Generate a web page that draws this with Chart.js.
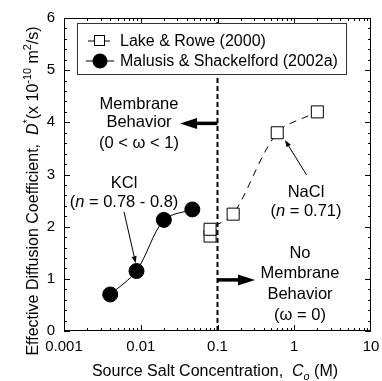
<!DOCTYPE html>
<html>
<head>
<meta charset="utf-8">
<script src="https://cdn.jsdelivr.net/npm/chart.js@4.4.0/dist/chart.umd.min.js"></script>
<style>
  html, body { margin: 0; padding: 0; background: #fff; }
</style>
</head>
<body>
<canvas id="myChart" width="382" height="381"></canvas>
<script>
// concentration (M) vs effective diffusion coefficient (x 10^-10 m2/s)
const lakeConc = [0.08, 0.08, 0.16, 0.6, 2.0];
const lakeD = [1.82, 1.95, 2.24, 3.8, 4.2];
const malusisConc = [0.004, 0.0088, 0.02, 0.047];
const malusisD = [0.7, 1.15, 2.13, 2.33];
const boundaryConc = 0.1;

const xTicks = [0.001, 0.01, 0.1, 1, 10];
const xTickLabels = ['0.001', '0.01', '0.1', '1', '10'];
const yMin = 0, yMax = 6;
const seriesNames = ['Lake & Rowe (2000)', 'Malusis & Shackelford (2002a)'];

const FONT = '"Liberation Sans", Arial, Helvetica, sans-serif';

// rich text: parts like {t, it, sup, sub}
function richWidth(ctx, parts, size) {
  let w = 0;
  parts.forEach(p => {
    const s = (p.sup || p.sub) ? size * 0.68 : size;
    ctx.font = (p.it ? 'italic ' : '') + s + 'px ' + FONT;
    w += ctx.measureText(p.t).width;
  });
  return w;
}

function drawRich(ctx, parts, x, y, size) {
  let cx = x - richWidth(ctx, parts, size) / 2;
  ctx.textAlign = 'left';
  ctx.textBaseline = 'alphabetic';
  parts.forEach(p => {
    const s = (p.sup || p.sub) ? size * 0.68 : size;
    ctx.font = (p.it ? 'italic ' : '') + s + 'px ' + FONT;
    let dy = 0;
    if (p.sup) dy = -size * 0.42;
    if (p.sub) dy = size * 0.25;
    ctx.fillText(p.t, cx, y + dy);
    cx += ctx.measureText(p.t).width;
  });
}

function drawArrow(ctx, x1, y1, x2, y2, width, headLen, headHalf) {
  const a = Math.atan2(y2 - y1, x2 - x1);
  const bx = x2 - Math.cos(a) * headLen, by = y2 - Math.sin(a) * headLen;
  ctx.strokeStyle = '#000';
  ctx.fillStyle = '#000';
  ctx.lineWidth = width;
  ctx.beginPath();
  ctx.moveTo(x1, y1);
  ctx.lineTo(bx, by);
  ctx.stroke();
  ctx.beginPath();
  ctx.moveTo(x2, y2);
  ctx.lineTo(bx + Math.sin(a) * headHalf, by - Math.cos(a) * headHalf);
  ctx.lineTo(bx - Math.sin(a) * headHalf, by + Math.cos(a) * headHalf);
  ctx.closePath();
  ctx.fill();
}

// box + inward ticks on all four sides
const framePlugin = {
  id: 'frame',
  afterDatasetsDraw(chart) {
    const {ctx, chartArea: a, scales: {x, y}} = chart;
    ctx.save();
    ctx.strokeStyle = '#000';
    ctx.lineWidth = 1;
    ctx.strokeRect(a.left + 0.5, a.top + 0.5, a.right - a.left - 1, a.bottom - a.top - 1);
    ctx.beginPath();
    for (let e = -3; e < 1; e++) {
      for (let k = 1; k <= 9; k++) {
        const px = Math.round(x.getPixelForValue(k * Math.pow(10, e))) + 0.5;
        const len = k === 1 ? 6 : 3;
        ctx.moveTo(px, a.bottom); ctx.lineTo(px, a.bottom - len);
        ctx.moveTo(px, a.top); ctx.lineTo(px, a.top + len);
      }
    }
    for (let i = 0; i <= (yMax - yMin) * 5; i++) {
      const v = yMin + i * 0.2;
      const py = Math.round(y.getPixelForValue(v)) + 0.5;
      const len = i % 5 === 0 ? 6 : 3;
      ctx.moveTo(a.left, py); ctx.lineTo(a.left + len, py);
      ctx.moveTo(a.right, py); ctx.lineTo(a.right - len, py);
    }
    ctx.stroke();

    // legend box
    const lx = 77.5, ly = 23.5, lw = 269, lh = 51;
    ctx.fillStyle = '#fff';
    ctx.fillRect(lx, ly, lw, lh);
    ctx.strokeStyle = '#333';
    ctx.strokeRect(lx, ly, lw, lh);
    const rows = [41, 61];
    ctx.strokeStyle = '#000';
    ctx.beginPath();
    ctx.moveTo(88, rows[0]); ctx.lineTo(110, rows[0]);
    ctx.moveTo(86, rows[1]); ctx.lineTo(114, rows[1]);
    ctx.stroke();
    ctx.fillStyle = '#fff';
    ctx.fillRect(94.5, rows[0] - 5.5, 10, 10);
    ctx.strokeRect(94.5, rows[0] - 5.5, 10, 10);
    ctx.fillStyle = '#000';
    ctx.beginPath();
    ctx.arc(100, rows[1], 7.5, 0, Math.PI * 2);
    ctx.fill();
    ctx.font = '16px ' + FONT;
    ctx.textAlign = 'left';
    ctx.textBaseline = 'middle';
    ctx.fillText(seriesNames[0], 120, rows[0] + 1);
    ctx.fillText(seriesNames[1], 120, rows[1] + 1);
    ctx.restore();
  },
  afterDraw(chart) {
    const {ctx, scales: {x, y}} = chart;
    const X = v => x.getPixelForValue(v), Y = v => y.getPixelForValue(v);
    ctx.save();
    ctx.fillStyle = '#000';

    // axis titles
    drawRich(ctx, [{t: 'Source Salt Concentration,  '}, {t: 'C', it: true}, {t: 'o', it: true, sub: true}, {t: ' (M)'}],
      215, 376, 16);
    ctx.save();
    ctx.translate(38, 191);
    ctx.rotate(-Math.PI / 2);
    drawRich(ctx, [{t: 'Effective Diffusion Coefficient,  '}, {t: 'D', it: true}, {t: '*', sup: true},
      {t: '(x 10'}, {t: '-10', sup: true}, {t: ' m'}, {t: '2', sup: true}, {t: '/s)'}], 0, 0, 16);
    ctx.restore();

    const fs = 16.5;
    const lines = (cx, ys, texts) => texts.forEach((t, i) => drawRich(ctx, t, cx, ys[i], fs));

    // membrane / no membrane regions
    lines(139, [109, 127, 148], [[{t: 'Membrane'}], [{t: 'Behavior'}], [{t: '(0 < \u03c9 < 1)'}]]);
    drawArrow(ctx, X(boundaryConc), Y(3.98), X(0.0325), Y(3.98), 3.5, 17, 5.5);
    lines(300, [258, 278, 299, 320], [[{t: 'No'}], [{t: 'Membrane'}], [{t: 'Behavior'}], [{t: '(\u03c9 = 0)'}]]);
    drawArrow(ctx, X(boundaryConc), Y(0.98), X(0.308), Y(0.98), 3.5, 17, 5.5);

    // salt labels
    lines(124, [188, 207], [[{t: 'KCl'}], [{t: '('}, {t: 'n', it: true}, {t: ' = 0.78 - 0.8)'}]]);
    drawArrow(ctx, X(0.00605), Y(2.285), X(0.00859), Y(1.30), 1, 7, 2.5);
    lines(306, [197, 216], [[{t: 'NaCl'}], [{t: '('}, {t: 'n', it: true}, {t: ' = 0.71)'}]]);
    drawArrow(ctx, X(1.45), Y(2.99), X(0.757), Y(3.66), 1, 7, 2.5);
    ctx.restore();
  }
};

const ctx = document.getElementById('myChart');

const myChart = new Chart(ctx, {
  type: 'scatter',
  data: {
    datasets: [
      {
        label: 'boundary',
        data: [{x: boundaryConc, y: yMin}, {x: boundaryConc, y: yMax}],
        showLine: true,
        borderColor: '#000',
        borderWidth: 2,
        borderDash: [5, 3],
        pointRadius: 0
      },
      {
        label: seriesNames[0],
        data: lakeConc.map((c, i) => ({x: c, y: lakeD[i]})),
        showLine: true,
        tension: 0.3,
        borderColor: '#000',
        borderWidth: 1,
        borderDash: [7, 6],
        pointStyle: 'rect',
        pointRadius: 8.5,
        pointBackgroundColor: '#fff',
        pointBorderColor: '#000',
        pointBorderWidth: 1
      },
      {
        label: seriesNames[1],
        data: malusisConc.map((c, i) => ({x: c, y: malusisD[i]})),
        showLine: true,
        tension: 0.3,
        borderColor: '#000',
        borderWidth: 1,
        pointStyle: 'circle',
        pointRadius: 7.5,
        pointBackgroundColor: '#000',
        pointBorderColor: '#000'
      }
    ]
  },
  options: {
    responsive: false,
    animation: false,
    layout: { padding: { top: 18, right: 0, left: 0, bottom: 0 } },
    plugins: { legend: { display: false }, tooltip: { enabled: false } },
    scales: {
      x: {
        type: 'logarithmic',
        min: 0.001,
        max: 10,
        grid: { display: false, drawTicks: false },
        border: { display: false },
        afterBuildTicks: scale => { scale.ticks = xTicks.map(v => ({value: v})); },
        afterFit: scale => {
          scale.height = 50;
          scale.paddingLeft = 0;
          scale.paddingRight = 11;
        },
        ticks: {
          autoSkip: false,
          maxRotation: 0,
          padding: 7,
          color: '#000',
          font: { size: 15, family: FONT },
          callback: value => xTickLabels[xTicks.indexOf(value)]
        }
      },
      y: {
        min: yMin,
        max: yMax,
        grid: { display: false, drawTicks: false },
        border: { display: false },
        afterFit: scale => { scale.width = 64; },
        ticks: {
          stepSize: 1,
          padding: 9,
          color: '#000',
          font: { size: 15, family: FONT }
        }
      }
    }
  },
  plugins: [framePlugin]
});
</script>
</body>
</html>
